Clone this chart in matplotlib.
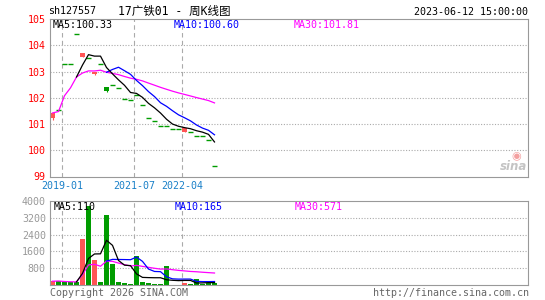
import numpy as np
import pandas as pd
import matplotlib
matplotlib.use('Agg')
import matplotlib.pyplot as plt

plt.rcParams['font.family'] = ['DejaVu Sans Mono', 'Noto Sans CJK SC']

# weekly bars (only weeks with trades), oldest first
open_ = [101.21, 101.53, 103.28, 103.28, 104.44, 103.57, 103.51, 102.90, 103.28, 102.42,
         102.49, 102.37, 101.96, 101.91, 102.10, 101.73, 101.23, 101.11, 100.92, 100.92,
         100.81, 100.81, 100.70, 100.71, 100.54, 100.54, 100.39, 99.40]
close = [101.42, 101.53, 103.28, 103.28, 104.44, 103.70, 103.51, 103.00, 103.28, 102.27,
         102.49, 102.37, 101.96, 101.91, 102.10, 101.73, 101.23, 101.11, 100.92, 100.92,
         100.81, 100.81, 100.85, 100.71, 100.54, 100.54, 100.39, 99.40]
high = [101.42, 101.53, 103.28, 103.28, 104.44, 103.70, 103.51, 103.00, 103.28, 102.42,
        102.49, 102.37, 101.96, 101.91, 102.10, 101.73, 101.23, 101.11, 100.92, 100.92,
        100.81, 100.81, 100.85, 100.71, 100.54, 100.54, 100.39, 99.40]
low = [101.15, 101.53, 103.28, 103.28, 104.44, 103.55, 103.51, 102.88, 103.28, 102.23,
       102.49, 102.37, 101.96, 101.91, 102.10, 101.73, 101.23, 101.11, 100.92, 100.92,
       100.81, 100.81, 100.68, 100.71, 100.54, 100.54, 100.39, 99.40]
volume = [180, 200, 120, 120, 120, 2200, 3750, 1200, 150, 3350,
          990, 150, 80, 50, 1380, 150, 100, 50, 50, 900,
          20, 20, 100, 50, 280, 50, 90, 90]

price_ticks = [99, 100, 101, 102, 103, 104, 105]
vol_ticks = [800, 1600, 2400, 3200, 4000]
date_pos = [2, 14, 22]
date_labels = ['2019-01', '2021-07', '2022-04']

RED = '#ff5555'
GREEN = '#009c00'
GRID = '#aaaaaa'
BORDER = '#999999'

W, H = 545, 300


def box(l, t, r, b):
    return [l / W, 1 - b / H, (r - l) / W, (b - t) / H]


def ptext(x, y, s, **kw):
    kw.setdefault('va', 'center')
    kw.setdefault('fontsize', 7.2)
    fig.text(x / W, 1 - y / H, s, **kw)


o = np.array(open_)
c = np.array(close)
idx = np.arange(len(c))
up = c > o
cols = [RED if u else GREEN for u in up]
px = pd.Series(c)
ma5 = px.rolling(5).mean()
ma10 = px.rolling(10).mean()
ma30 = px.rolling(30, min_periods=1).mean()
vs = pd.Series(volume, dtype=float)
vma5 = vs.rolling(5).mean()
vma10 = vs.rolling(10).mean()
vma30 = vs.rolling(30, min_periods=1).mean()

fig = plt.figure(figsize=(W / 100, H / 100), dpi=100)
ax = fig.add_axes(box(50, 19, 528, 176.5))
axv = fig.add_axes(box(50, 201, 528, 285))

xlim = (-2.5 / 6, (528 - 52.5) / 6)
bw = 5 / 6

for a in (ax, axv):
    a.set_xlim(*xlim)
    for s in a.spines.values():
        s.set_color(BORDER)
        s.set_linewidth(0.8)
    for p in date_pos:
        a.axvline(p - 0.4, color=GRID, lw=0.8, ls=(0, (4, 3)), zorder=0)
    a.tick_params(length=0, pad=3, labelsize=7.2)

# price panel
ax.set_ylim(99, 105)
for t in price_ticks[1:-1]:
    ax.axhline(t, color=GRID, lw=0.8, ls=(0, (1, 1.5)), zorder=0)
ax.set_yticks(price_ticks)
ax.set_yticklabels([str(t) for t in price_ticks], color='#ff0000')
ax.set_xticks([p - 0.4 for p in date_pos])
ax.set_xticklabels(date_labels, color='#1a80c8')

ax.vlines(idx, low, high, colors=cols, lw=0.8, zorder=2)
for i in idx:
    if abs(c[i] - o[i]) < 0.02:
        ax.hlines(c[i], i - bw / 2, i + bw / 2, colors=cols[i], lw=1.0, zorder=2)
    else:
        ax.bar(i, abs(c[i] - o[i]), bottom=min(c[i], o[i]), width=bw,
               color=cols[i], zorder=2)
ax.plot(idx, ma30, color='#ff00ff', lw=0.9, zorder=3)
ax.plot(idx, ma10, color='#0000ff', lw=0.9, zorder=3)
ax.plot(idx, ma5, color='#000000', lw=0.9, zorder=3)

# volume panel
axv.set_ylim(0, 4000)
for t in vol_ticks[:-1]:
    axv.axhline(t, color=GRID, lw=0.8, ls=(0, (1, 1.5)), zorder=0)
axv.set_yticks(vol_ticks)
axv.set_yticklabels([str(t) for t in vol_ticks], color='#999999')
axv.set_xticks([])
axv.bar(idx, volume, width=bw, color=cols, zorder=2)
axv.plot(idx, vma30, color='#ff00ff', lw=0.9, zorder=3)
axv.plot(idx, vma10, color='#0000ff', lw=0.9, zorder=3)
axv.plot(idx, vma5, color='#000000', lw=0.9, zorder=3)

# texts
ptext(48, 11.5, 'sh127557', color='#000000')
ptext(118, 11, '17广铁01 - 周K线图', color='#000000', fontsize=8.3)
ptext(528, 12, '2023-06-12 15:00:00', color='#000000', ha='right')
ptext(53, 25, 'MA5:100.33', color='#000000')
ptext(173.5, 25, 'MA10:100.60', color='#0000ff')
ptext(293.5, 25, 'MA30:101.81', color='#ff00ff')
ptext(54, 207, 'MA5:110', color='#000000')
ptext(175, 207, 'MA10:165', color='#0000ff')
ptext(295, 207, 'MA30:571', color='#ff00ff')
ptext(50, 292.5, 'Copyright 2026 SINA.COM', color='#666666')
ptext(529, 292.5, 'http://finance.sina.com.cn', color='#666666', ha='right')

# sina watermark
ptext(516, 156, '◉', color='#f4a0a0', fontsize=8, ha='center', family='DejaVu Sans')
ptext(527, 166, 'sina', color='#c4c4c4', fontsize=8.5, ha='right',
      style='italic', weight='bold', family='DejaVu Sans')

fig.savefig('out.png', dpi=100)
